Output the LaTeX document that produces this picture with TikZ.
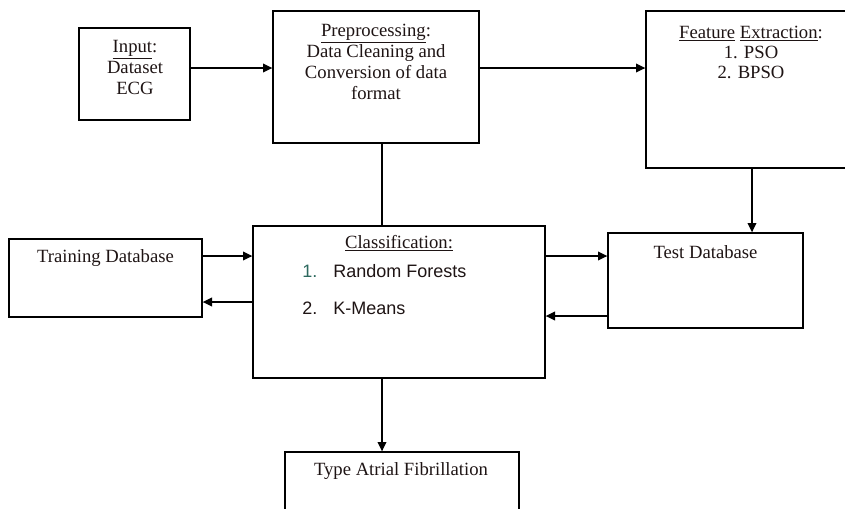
\documentclass[tikz,border=0pt]{standalone}
\usepackage{fontspec}
\setmainfont{Liberation Serif}
\newfontfamily\arialf{Liberation Sans}
\usetikzlibrary{arrows.meta}
\definecolor{numteal}{RGB}{45,105,95}
\definecolor{txt}{RGB}{30,20,20}
\tikzset{
  box/.style={draw, line width=1pt, rectangle, inner sep=0pt},
  lbl/.style={align=center, inner sep=0pt, text=txt, font=\fontsize{14}{15.75}\selectfont},
  sans/.style={anchor=west, inner sep=0pt, text=txt, font=\arialf\fontsize{13.5}{15}\selectfont},
  conn/.style={line width=1pt},
  arr/.style={line width=1pt, -{Triangle[length=7pt,width=6.5pt]}}
}
\begin{document}
\begin{tikzpicture}[x=0.75pt,y=-0.75pt]
\useasboundingbox (0,0) rectangle (845,508);
% boxes
\node[box, minimum width=83.25pt, minimum height=69pt] (inp) at (134.5,74) {};
\node[box, minimum width=154.5pt, minimum height=99pt] (pre) at (376,77) {};
\node[box, minimum width=157.5pt, minimum height=117.75pt] (fe) at (751,89.5) {};
\node[box, minimum width=146.25pt, minimum height=71.25pt] (test) at (705.5,280.5) {};
\node[box, minimum width=219pt, minimum height=114pt] (cls) at (399,302) {};
\node[box, minimum width=144.75pt, minimum height=58.5pt] (trn) at (105.5,278) {};
\node[box, minimum width=175.5pt, minimum height=58.5pt] (typ) at (402,491) {};
% texts
\node[lbl] (tinp) at (135,67) {\underline{Input}:\\Dataset\\ECG};
\node[lbl] (tpre) at (376,61.5) {\underline{Preprocessing}:\\Data Cleaning and\\Conversion of data\\format};
\node[lbl, font=\fontsize{14}{15}\selectfont] (tfe) at (751,52) {\underline{Feature} \underline{Extraction}:\\1. PSO\\2. BPSO};
\node[lbl] (ttest) at (705.5,252) {Test Database};
\node[lbl] (ttrn) at (105.5,258) {Training Database};
\node[lbl] (tcls) at (399,243) {\underline{Classification:}};
\node[sans, text=numteal] (n1) at (302,271) {1.};
\node[sans] (i1) at (333,271) {Random Forests};
\node[sans] (n2) at (302,308) {2.};
\node[sans] (i2) at (333,308) {K-Means};
\node[lbl] (ttyp) at (401,471) {Type Atrial Fibrillation};
% connectors
\draw[arr] (inp.east |- 0,68) -- (pre.west |- 0,68);
\draw[arr] (pre.east |- 0,68) -- (fe.west |- 0,68);
\draw[conn] (pre.south -| 382,0) -- (cls.north -| 382,0);
\draw[arr] (fe.south -| 752,0) -- (test.north -| 752,0);
\draw[arr] (cls.east |- 0,256) -- (test.west |- 0,256);
\draw[arr] (test.west |- 0,316) -- (cls.east |- 0,316);
\draw[arr] (trn.east |- 0,256) -- (cls.west |- 0,256);
\draw[arr] (cls.west |- 0,302) -- (trn.east |- 0,302);
\draw[arr] (cls.south -| 382,0) -- (typ.north -| 382,0);
\end{tikzpicture}
\end{document}
